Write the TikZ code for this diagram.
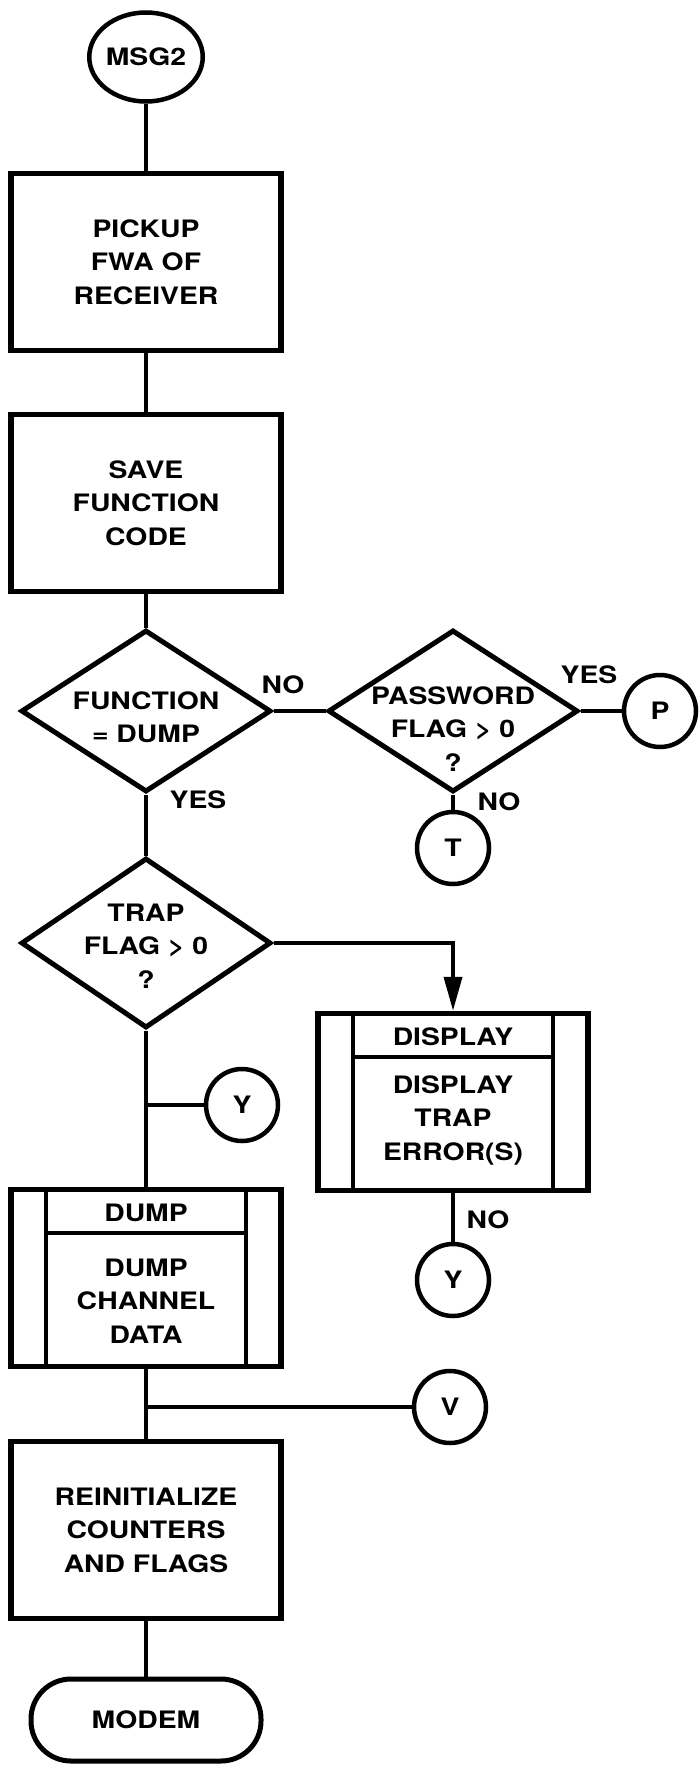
\documentclass[tikz,border=0pt]{standalone}
\usepackage{fontspec}
\setmainfont{TeX Gyre Heros}[FakeStretch=1.18]
\usetikzlibrary{shapes.geometric}
\usetikzlibrary{arrows.meta}
\usetikzlibrary{calc}
\tikzset{>=latex}

\begin{document}
\begin{tikzpicture}[x=1pt,y=-1pt,line width=3.8pt]
  \tikzstyle{lbl}=[font=\bfseries\fontsize{24}{33.5}\selectfont,align=center,inner sep=0pt]
  \tikzstyle{procbox}=[lbl,draw,line width=5.5pt,minimum width=270pt,minimum height=177pt]
  \tikzstyle{decision}=[draw,shape=diamond,line width=5pt,minimum width=250pt,minimum height=162pt,inner sep=0pt]
  \tikzstyle{conn}=[lbl,draw,shape=circle,line width=4.5pt,minimum size=72pt]
  \useasboundingbox (0,0) rectangle (700,1774);

  % main column
  \node[conn,shape=ellipse,minimum width=98pt,minimum height=89pt] (msg) at (146,57) {MSG2};
  \node[procbox] (pick) at (146,262) {PICKUP\\FWA OF\\RECEIVER};
  \node[procbox] (save) at (146,503) {SAVE\\FUNCTION\\CODE};
  \node[decision] (isdump) at (146,711) {};
  \node[lbl] (isdumptxt) at (146,717) {FUNCTION\\= DUMP};
  \node[decision,minimum height=170pt] (trap) at (146,943) {};
  \node[lbl] (traptxt) at (146,946) {TRAP\\FLAG > 0\\?};
  \node[conn] (y1) at (242,1105) {Y};
  \node[procbox] (dump) at (146,1278) {};
  \node[lbl] (dumphead) at (146,1213) {DUMP};
  \node[lbl] (dumptxt) at (146,1301) {DUMP\\CHANNEL\\DATA};
  \node[conn] (v) at (450,1407) {V};
  \node[procbox] (reinit) at (146,1530) {REINITIALIZE\\COUNTERS\\AND FLAGS};
  \node[lbl,draw,line width=5pt,rounded corners=40pt,minimum width=230pt,minimum height=82pt] (modem) at (146,1720) {MODEM};

  % right side
  \node[decision] (pwd) at (453,711) {};
  \node[lbl] (pwdtxt) at (453,729) {PASSWORD\\FLAG > 0\\?};
  \node[conn] (p) at (660,711) {P};
  \node[conn] (t) at (453,848) {T};
  \node[procbox] (disp) at (453,1102) {};
  \node[lbl] (disphead) at (453,1037) {DISPLAY};
  \node[lbl] (disptxt) at (453,1120) {DISPLAY\\TRAP\\ERROR(S)};
  \node[conn] (y2) at (453,1280) {Y};

  % side bars of the subroutine boxes
  \foreach \b in {dump,disp} {
    \draw[line width=4pt] ([xshift=38pt]\b.north west) -- ([xshift=38pt]\b.south west);
    \draw[line width=4pt] ([xshift=-38pt]\b.north east) -- ([xshift=-38pt]\b.south east);
    \draw[line width=4pt] ([xshift=38pt,yshift=-46pt]\b.north west) -- ([xshift=-38pt,yshift=-46pt]\b.north east);
  }

  % yes / no
  \node[lbl] (no1) at (283,685) {NO};
  \node[lbl] (yes1) at (198,800) {YES};
  \node[lbl] (yes2) at (589,675) {YES};
  \node[lbl] (no2) at (499,802) {NO};
  \node[lbl] (no3) at (488,1220) {NO};

  \draw (msg) -- (pick);
  \draw (pick) -- (save);
  \draw (save) -- (isdump);
  \draw (isdump) -- (pwd);
  \draw (pwd) -- (p);
  \draw (pwd) -- (t);
  \draw (isdump) -- (trap);
  \draw[-{Triangle[width=18pt,length=34pt]}] (trap.east) -| (disp.north);
  \draw (disp) -- (y2);
  \draw (trap) -- (dump);
  \draw (y1) -- (y1 -| dump.north);
  \draw (dump) -- (reinit);
  \draw (v) -- (v -| reinit.north);
  \draw (reinit) -- (modem);
\end{tikzpicture}
\end{document}
